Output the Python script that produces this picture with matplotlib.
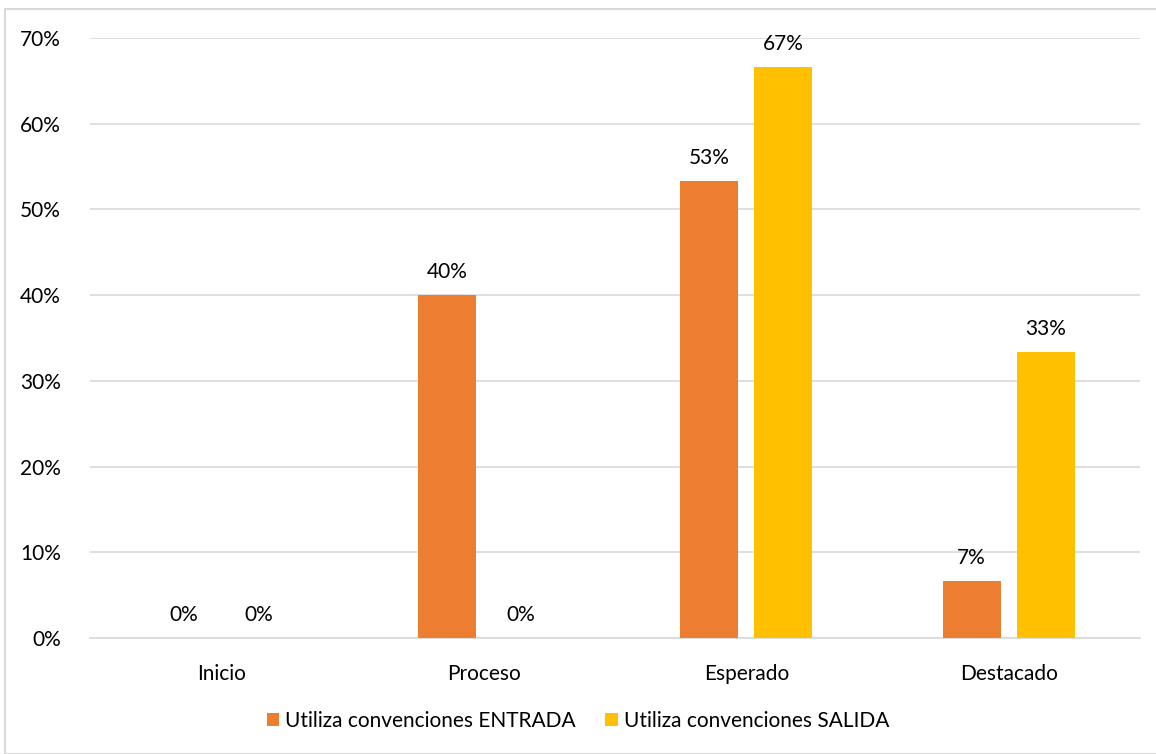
import matplotlib.pyplot as plt
import numpy as np
from matplotlib.patches import Rectangle

plt.rcParams['font.family'] = ['Lato', 'DejaVu Sans']

categorias = ["Inicio", "Proceso", "Esperado", "Destacado"]
entrada = [0, 40, 53.33, 6.67]
salida = [0, 0, 66.67, 33.33]
serie_nombres = ["Utiliza convenciones ENTRADA", "Utiliza convenciones SALIDA"]
colores = ["#ed7d31", "#ffc000"]

fig = plt.figure(figsize=(11.56, 7.54), dpi=100)
ax = fig.add_axes([90 / 1156, 1 - 638 / 754, 1050 / 1156, 600 / 754])

x = np.arange(len(categorias))
w = 0.222
off = 0.141
b1 = ax.bar(x - off, entrada, w, color=colores[0], label=serie_nombres[0], zorder=3)
b2 = ax.bar(x + off, salida, w, color=colores[1], label=serie_nombres[1], zorder=3)

for barras in (b1, b2):
    for r in barras:
        h = r.get_height()
        ax.text(r.get_x() + r.get_width() / 2, h + 1.5, f"{h:.0f}%",
                ha="center", va="bottom", fontsize=15, color="#000000")

ax.set_xlim(-0.5, len(categorias) - 0.5)
ax.set_ylim(0, 70)
ax.set_yticks(range(0, 71, 10))
ax.set_yticklabels([f"{v}%" for v in range(0, 71, 10)])
ax.set_xticks(x)
ax.set_xticklabels(categorias)
ax.tick_params(axis="both", length=0, labelsize=15, colors="#000000")
ax.tick_params(axis="y", pad=21)
ax.tick_params(axis="x", pad=19)
ax.grid(axis="y", color="#d9d9d9", linewidth=1.2, zorder=0)
for s in ["top", "right", "left"]:
    ax.spines[s].set_visible(False)
ax.spines["bottom"].set_color("#d9d9d9")
ax.spines["bottom"].set_linewidth(1.2)

fig.legend(handles=[b1, b2], loc="center", bbox_to_anchor=(0.5, 1 - 721 / 754),
           ncol=2, frameon=False, fontsize=15, handlelength=0.6, handleheight=0.6,
           columnspacing=1.4, handletextpad=0.3)

# marco exterior del gráfico
fig.patches.append(Rectangle((5 / 1156, 0), 1, 1 - 9 / 754, transform=fig.transFigure,
                             fill=False, edgecolor="#d9d9d9", linewidth=1.5))

fig.savefig("out.png", dpi=100)
